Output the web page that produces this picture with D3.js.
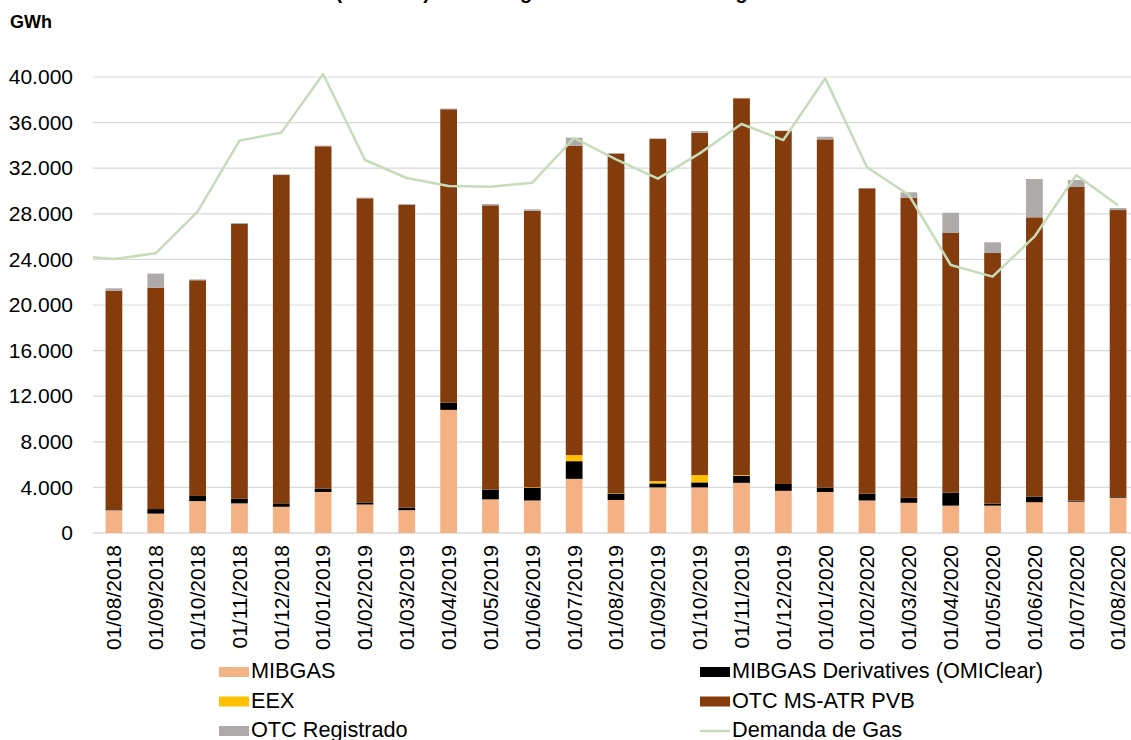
<!DOCTYPE html>
<html>
<head>
<meta charset="utf-8">
<script src="https://cdn.jsdelivr.net/npm/d3@7"></script>
<style>
  body { margin: 0; background: #fff; }
  svg { display: block; font-family: "Liberation Sans", Arial, sans-serif; }
</style>
</head>
<body>
<div id="chart"></div>
<script>
// months (category axis)
const months = ["01/08/2018","01/09/2018","01/10/2018","01/11/2018","01/12/2018",
  "01/01/2019","01/02/2019","01/03/2019","01/04/2019","01/05/2019","01/06/2019",
  "01/07/2019","01/08/2019","01/09/2019","01/10/2019","01/11/2019","01/12/2019",
  "01/01/2020","01/02/2020","01/03/2020","01/04/2020","01/05/2020","01/06/2020",
  "01/07/2020","01/08/2020"]

// stacked series, GWh
const mibgas = [2000,1700,2800,2600,2300,3600,2500,2000,10800,2950,2850,4750,2900,4000,4000,4400,3700,3600,2850,2650,2400,2400,2700,2750,3100]
const derivatives = [80,400,450,400,300,300,180,230,640,850,1100,1550,550,350,440,620,600,380,600,440,1140,180,500,90,60]
const eex = [0,0,0,0,0,0,0,0,0,0,50,530,30,200,640,60,0,0,0,0,0,0,0,0,0]
const otcPvb = [19175,19420,18920,24135,28800,30020,26680,26570,25730,24945,24270,27145,29795,30010,30040,33050,30960,30550,26785,26325,22775,21980,24490,27510,25170]
const otcRegistrado = [210,1230,80,60,60,60,60,60,60,110,120,700,60,60,150,40,40,230,30,470,1780,940,3360,610,180]

// line series, GWh (first value is the month before the axis, clipped at the edge)
const demandaPrev = 24330
const demanda = [24035,24530,28190,34420,35120,40260,32720,31140,30440,30380,30730,34650,32780,31080,33300,35880,34470,39880,32080,29650,23510,22490,25990,31400,28745]

const yTicks = [0,4000,8000,12000,16000,20000,24000,28000,32000,36000,40000]

const seriesNames = ["MIBGAS","MIBGAS Derivatives (OMIClear)","EEX","OTC MS-ATR PVB","OTC Registrado"]
const seriesColors = ["#f4b183","#000000","#ffc000","#843c0c","#aeaaaa"]
const lineColor = "#c5dcba"

const width = 1131, height = 740
const plot = {left: 93, right: 1139, top: 77, bottom: 533}

const svg = d3.select("#chart").append("svg")
    .attr("width", width)
    .attr("height", height)

// title, cut off by the top of the picture (only the descenders show)
svg.append("text")
    .attr("x", 247).attr("y", -1)
    .attr("font-size", 20).attr("font-weight", "bold")
    .text("Volumen (mensual) de trading vs demanda total de gas")

svg.append("text")
    .attr("x", 10).attr("y", 28)
    .attr("font-size", 18).attr("font-weight", "bold")
    .text("GWh")

const x = d3.scaleBand().domain(months).range([plot.left, plot.right]).paddingInner(0.6).paddingOuter(0.3)
const y = d3.scaleLinear().domain([0, 40000]).range([plot.bottom, plot.top])

const locale = d3.formatLocale({decimal: ",", thousands: ".", grouping: [3], currency: ["", ""]})
const fmt = locale.format(",.0f")

// gridlines
svg.append("g")
    .selectAll("line")
    .data(yTicks)
    .join("line")
    .attr("x1", plot.left).attr("x2", width)
    .attr("y1", d => y(d)).attr("y2", d => y(d))
    .attr("stroke", "#d9d9d9")
    .attr("stroke-width", d => d === 0 ? 1.5 : 1.2)

// y axis labels
const yAxis = svg.append("g")
    .attr("transform", `translate(${plot.left},0)`)
    .call(d3.axisLeft(y).tickValues(yTicks).tickFormat(fmt).tickSize(0).tickPadding(20))
yAxis.select(".domain").remove()
yAxis.selectAll("text").attr("font-size", 21).attr("fill", "#000")
    .attr("font-family", "'Liberation Sans', Arial, sans-serif")

// stacked bars
const rows = months.map((m, i) => ({
    month: m,
    s0: mibgas[i], s1: derivatives[i], s2: eex[i], s3: otcPvb[i], s4: otcRegistrado[i]
}))
const stack = d3.stack().keys(["s0","s1","s2","s3","s4"])(rows)

const barW = x.bandwidth()
svg.append("g")
    .selectAll("g")
    .data(stack)
    .join("g")
    .attr("fill", (d, i) => seriesColors[i])
    .selectAll("rect")
    .data(d => d)
    .join("rect")
    .attr("x", d => x(d.data.month))
    .attr("y", d => y(d[1]))
    .attr("width", barW)
    .attr("height", d => Math.max(0, y(d[0]) - y(d[1])))

// demand line
svg.append("clipPath").attr("id", "plotclip")
    .append("rect")
    .attr("x", plot.left).attr("y", 0)
    .attr("width", width - plot.left).attr("height", height)

const step = x.step()
const linePts = [{x: x(months[0]) + barW / 2 - step, v: demandaPrev}]
    .concat(months.map((m, i) => ({x: x(m) + barW / 2, v: demanda[i]})))

svg.append("path")
    .datum(linePts)
    .attr("clip-path", "url(#plotclip)")
    .attr("fill", "none")
    .attr("stroke", lineColor)
    .attr("stroke-width", 2.5)
    .attr("stroke-linejoin", "round")
    .attr("d", d3.line().x(d => d.x).y(d => y(d.v)))

// x axis labels, rotated
svg.append("g")
    .selectAll("text")
    .data(months)
    .join("text")
    .attr("transform", d => `translate(${x(d) + barW / 2},545) rotate(-90)`)
    .attr("text-anchor", "end")
    .attr("dy", "0.35em")
    .attr("font-size", 21)
    .text(d => d)

// legend
const legendItems = [
    {name: seriesNames[0], color: seriesColors[0], col: 0, row: 0},
    {name: seriesNames[1], color: seriesColors[1], col: 1, row: 0},
    {name: seriesNames[2], color: seriesColors[2], col: 0, row: 1},
    {name: seriesNames[3], color: seriesColors[3], col: 1, row: 1},
    {name: seriesNames[4], color: seriesColors[4], col: 0, row: 2},
    {name: "Demanda de Gas", color: lineColor, col: 1, row: 2, line: true}
]
const colX = [219, 700]

const lg = svg.append("g")
    .selectAll("g")
    .data(legendItems)
    .join("g")
    .attr("transform", d => `translate(${colX[d.col]},${678 + d.row * 29.5})`)

lg.filter(d => !d.line).append("rect")
    .attr("x", 0).attr("y", -11)
    .attr("width", 30).attr("height", 10)
    .attr("fill", d => d.color)
lg.filter(d => d.line).append("line")
    .attr("x1", 0).attr("x2", 30).attr("y1", -6).attr("y2", -6)
    .attr("stroke", d => d.color).attr("stroke-width", 2.5)
lg.append("text")
    .attr("x", 32)
    .attr("font-size", 21.7)
    .text(d => d.name)
</script>
</body>
</html>
